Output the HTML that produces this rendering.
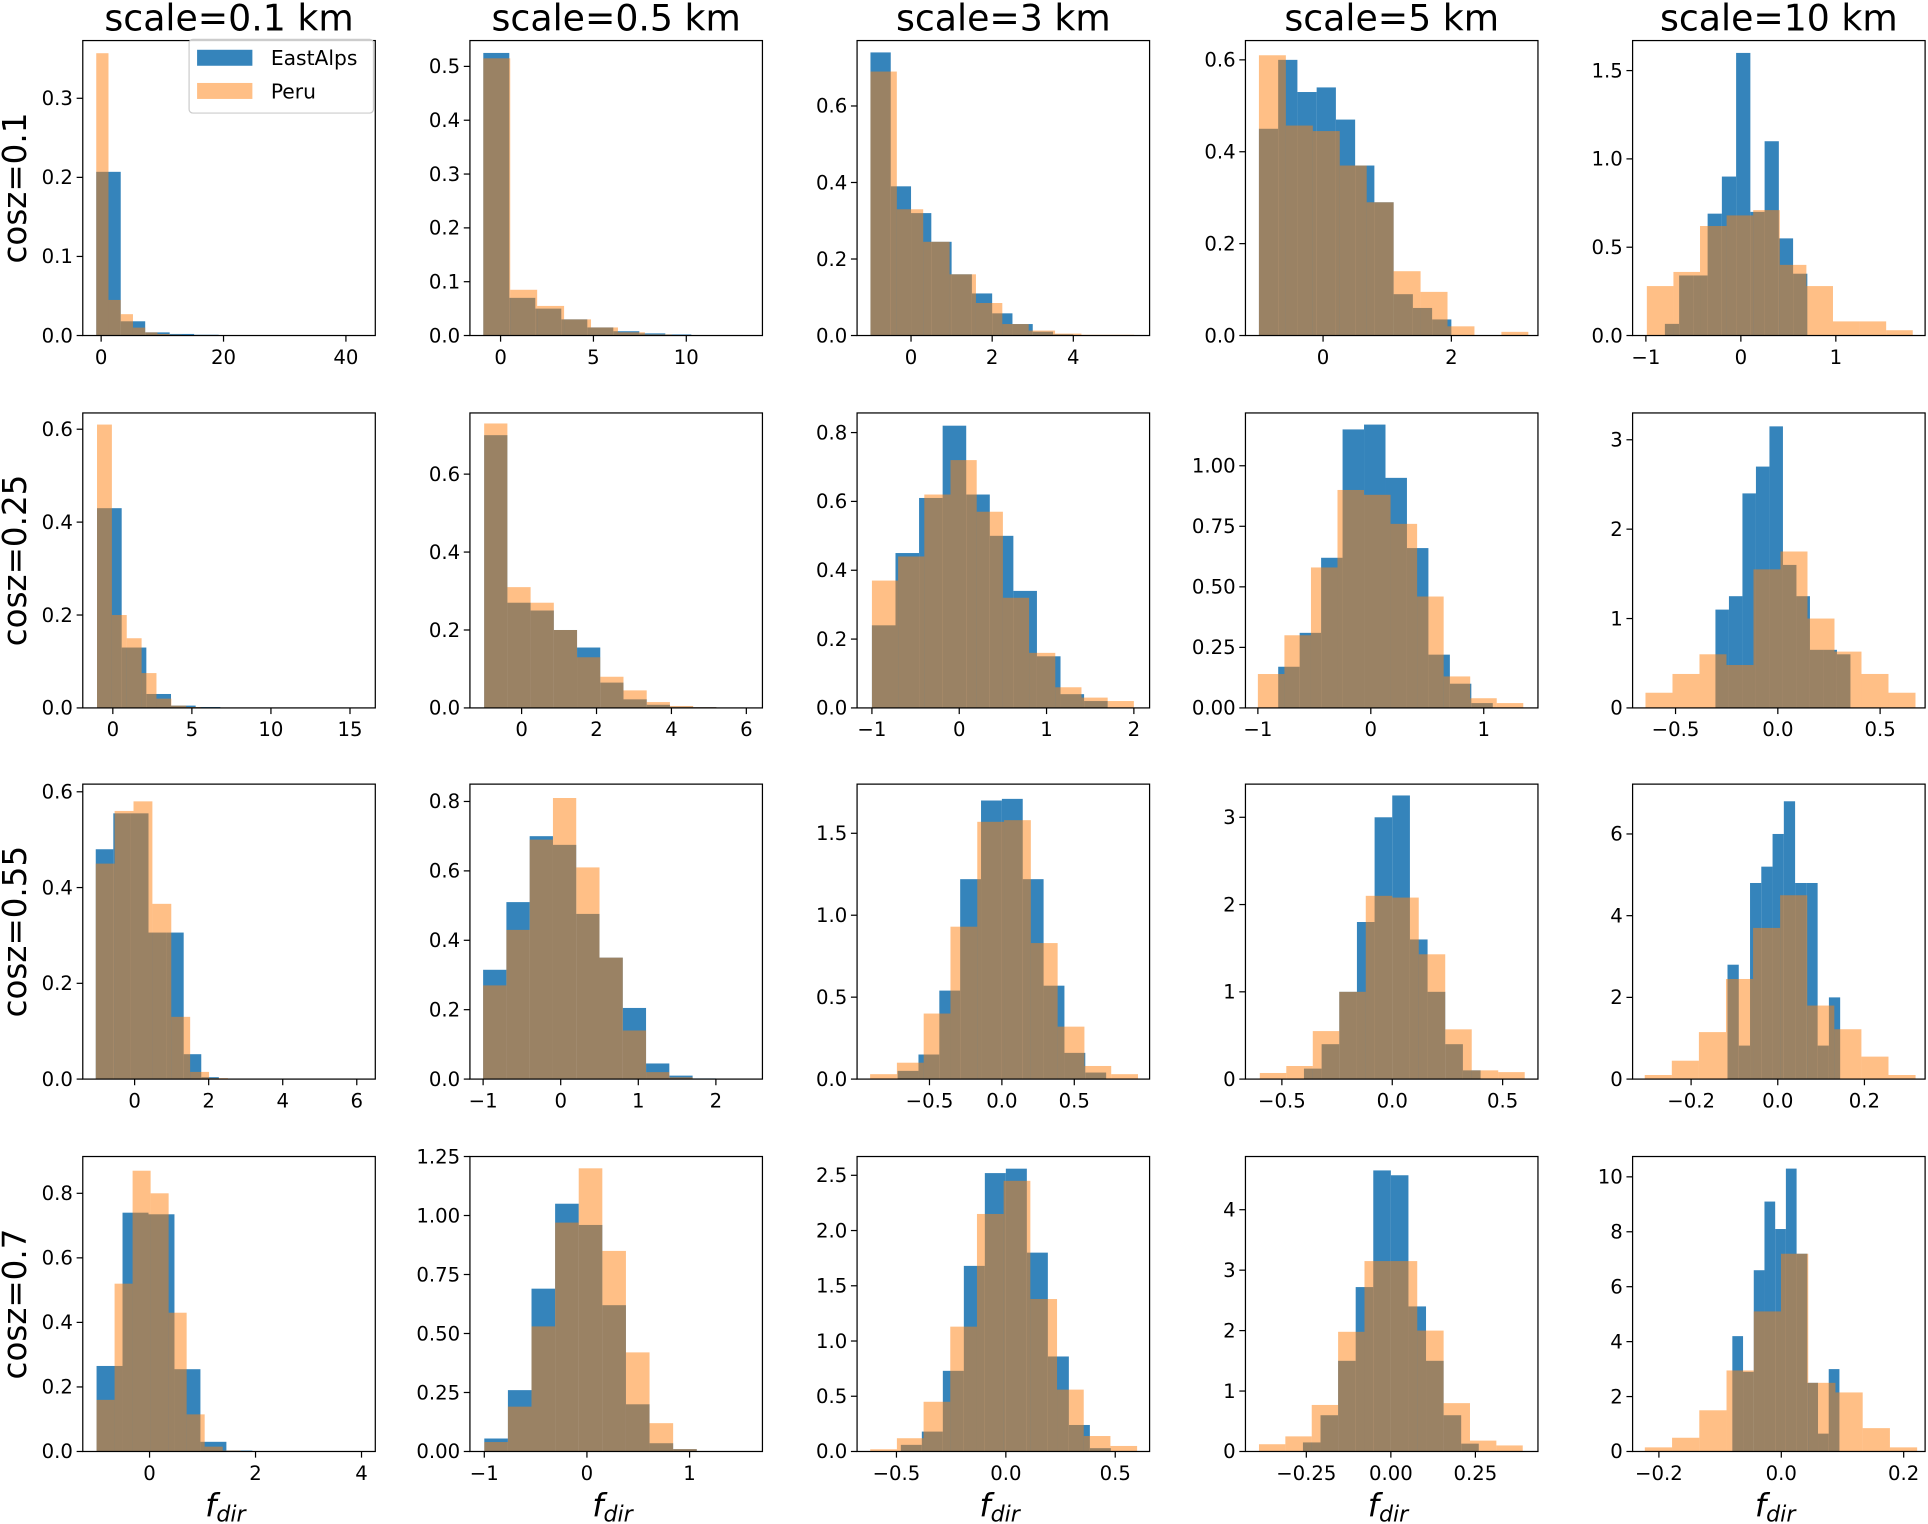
<!DOCTYPE html>
<html><head><meta charset="utf-8">
<style>
html,body{margin:0;padding:0;background:#fff;}
svg{display:block;}
text{font-family:"DejaVu Sans","Liberation Sans",sans-serif;fill:#000;}
</style></head>
<body>
<svg id="fig" xmlns="http://www.w3.org/2000/svg" width="1928" height="1524" viewBox="0 0 1568 1240">
<rect x="0" y="0" width="1568" height="1240" fill="#fff"/>
</svg>
<script>
// ---- data ----
const colTitles = ["scale=0.1 km","scale=0.5 km","scale=3 km","scale=5 km","scale=10 km"];
const rowTitles = ["cosz=0.1","cosz=0.25","cosz=0.55","cosz=0.7"];
const seriesNames = ["EastAlps","Peru"];
const xMins = [-3,-1.65,-1.33,-1.21,-1.14, -1.9,-1.38,-1.17,-1.11,-0.71, -1.4,-1.17,-1.0,-0.665,-0.335, -1.26,-1.14,-0.68,-0.43,-0.243];
const xMaxs = [44.8,14.1,5.88,3.35,1.94, 16.6,6.43,2.18,1.48,0.72, 6.5,2.6,1.02,0.66,0.34, 4.26,1.71,0.657,0.435,0.235];
const yMaxs = [0.373,0.548,0.771,0.642,1.67, 0.635,0.757,0.857,1.218,3.30, 0.616,0.85,1.80,3.38,7.22, 0.914,1.25,2.67,4.88,10.74];
const blueStarts = [-0.8,-0.93,-1.0,-1.0,-0.8, -1.0,-1.0,-1.0,-0.82,-0.305, -1.05,-1.0,-0.72,-0.40,-0.116, -1.0,-1.0,-0.48,-0.26,-0.08];
const blueWidths = [4,1.4,0.5,0.3,0.15, 1.56,0.62,0.27,0.19,0.066, 0.475,0.30,0.144,0.08,0.026, 0.49,0.23,0.096,0.052,0.0175];
const blueHeights = [
 [0.207,0.018,0.004,0.002,0.001,0,0,0,0,0],
 [0.525,0.07,0.05,0.03,0.015,0.008,0.004,0.002,0,0.001],
 [0.74,0.39,0.32,0.245,0.16,0.11,0.058,0.03,0.01,0.003],
 [0.45,0.60,0.53,0.54,0.47,0.37,0.29,0.09,0.06,0.035],
 [0.066,0.34,0.34,0.69,0.9,1.6,0.7,1.1,0.55,0.35],
 [0.43,0.13,0.03,0.005,0.002,0,0,0,0,0],
 [0.7,0.27,0.25,0.20,0.155,0.065,0.022,0.008,0.003,0.002],
 [0.24,0.45,0.61,0.82,0.62,0.5,0.34,0.15,0.04,0.02],
 [0.17,0.31,0.62,1.15,1.17,0.95,0.66,0.22,0.1,0.02],
 [1.1,1.25,2.4,2.7,3.15,1.6,1.25,0.65,0.65,0.6],
 [0.48,0.555,0.555,0.306,0.306,0.052,0.004,0,0,0],
 [0.315,0.51,0.70,0.675,0.476,0.35,0.205,0.045,0.01,0.002],
 [0.05,0.15,0.54,1.22,1.70,1.71,1.22,0.57,0.16,0.04],
 [0.12,0.4,1.0,1.8,3.0,3.25,1.6,1.0,0.4,0.1],
 [2.8,0.82,4.8,5.2,6.0,6.8,4.8,4.8,0.82,2.0],
 [0.265,0.74,0.735,0.255,0.03,0.003,0,0,0,0],
 [0.055,0.26,0.69,1.05,0.96,0.62,0.2,0.035,0.01,0.002],
 [0.06,0.18,0.73,1.68,2.52,2.56,1.8,0.86,0.24,0.03],
 [0.15,0.6,1.5,2.72,4.65,4.57,2.4,1.5,0.6,0.13],
 [4.2,2.9,6.6,9.1,8.1,10.3,7.2,2.5,0.65,3.0]
];
const orangeStarts = [-0.8,-0.93,-1.0,-1.0,-0.99, -1.0,-1.0,-1.0,-1.0,-0.647, -1.05,-1.0,-0.91,-0.60,-0.307, -1.0,-1.0,-0.62,-0.39,-0.223];
const orangeWidths = [2,1.45,0.65,0.42,0.28, 0.94,0.62,0.30,0.235,0.132, 0.51,0.30,0.185,0.12,0.0625, 0.34,0.23,0.122,0.078,0.0445];
const orangeHeights = [
 [0.357,0.045,0.027,0.01,0.004,0.002,0.001,0,0,0],
 [0.515,0.085,0.055,0.03,0.015,0.006,0.002,0.001,0,0],
 [0.69,0.33,0.245,0.16,0.085,0.03,0.013,0.005,0.002,0.002],
 [0.61,0.457,0.445,0.37,0.29,0.14,0.095,0.02,0,0.008],
 [0.28,0.36,0.62,0.68,0.71,0.4,0.28,0.08,0.08,0.03],
 [0.61,0.2,0.15,0.075,0.02,0.005,0.002,0.001,0,0],
 [0.73,0.31,0.27,0.2,0.13,0.08,0.045,0.015,0.005,0.002],
 [0.37,0.44,0.62,0.72,0.57,0.32,0.16,0.06,0.03,0.02],
 [0.14,0.3,0.58,0.9,0.88,0.76,0.46,0.13,0.04,0.02],
 [0.17,0.38,0.6,0.48,1.55,1.75,1.0,0.63,0.38,0.17],
 [0.45,0.56,0.58,0.366,0.13,0.015,0.002,0.001,0,0],
 [0.27,0.43,0.69,0.81,0.61,0.35,0.14,0.02,0.005,0],
 [0.03,0.1,0.4,0.93,1.57,1.58,0.83,0.32,0.08,0.03],
 [0.07,0.15,0.55,1.0,2.1,2.08,1.43,0.57,0.1,0.08],
 [0.1,0.45,1.15,2.45,3.7,4.5,1.8,1.22,0.55,0.1],
 [0.16,0.52,0.87,0.8,0.43,0.115,0.015,0.003,0,0],
 [0.04,0.19,0.53,0.97,1.2,0.85,0.42,0.12,0.01,0.002],
 [0.02,0.12,0.45,1.13,2.15,2.45,1.38,0.56,0.14,0.05],
 [0.12,0.25,0.77,1.98,3.15,3.15,2.0,0.8,0.18,0.1],
 [0.15,0.5,1.5,2.95,5.1,7.2,2.5,2.15,0.85,0.15]
];
const xTicks = [
 [0,20,40],[0,5,10],[0,2,4],[0,2],[-1,0,1],
 [0,5,10,15],[0,2,4,6],[-1,0,1,2],[-1,0,1],[-0.5,0,0.5],
 [0,2,4,6],[-1,0,1,2],[-0.5,0,0.5],[-0.5,0,0.5],[-0.2,0,0.2],
 [0,2,4],[-1,0,1],[-0.5,0,0.5],[-0.25,0,0.25],[-0.2,0,0.2]
];
const xTickLabels = [
 ["0","20","40"],["0","5","10"],["0","2","4"],["0","2"],["−1","0","1"],
 ["0","5","10","15"],["0","2","4","6"],["−1","0","1","2"],["−1","0","1"],["−0.5","0.0","0.5"],
 ["0","2","4","6"],["−1","0","1","2"],["−0.5","0.0","0.5"],["−0.5","0.0","0.5"],["−0.2","0.0","0.2"],
 ["0","2","4"],["−1","0","1"],["−0.5","0.0","0.5"],["−0.25","0.00","0.25"],["−0.2","0.0","0.2"]
];
const yTicks = [
 [0,0.1,0.2,0.3],[0,0.1,0.2,0.3,0.4,0.5],[0,0.2,0.4,0.6],[0,0.2,0.4,0.6],[0,0.5,1.0,1.5],
 [0,0.2,0.4,0.6],[0,0.2,0.4,0.6],[0,0.2,0.4,0.6,0.8],[0,0.25,0.5,0.75,1.0],[0,1,2,3],
 [0,0.2,0.4,0.6],[0,0.2,0.4,0.6,0.8],[0,0.5,1.0,1.5],[0,1,2,3],[0,2,4,6],
 [0,0.2,0.4,0.6,0.8],[0,0.25,0.5,0.75,1.0,1.25],[0,0.5,1.0,1.5,2.0,2.5],[0,1,2,3,4],[0,2,4,6,8,10]
];
const yTickLabels = [
 ["0.0","0.1","0.2","0.3"],["0.0","0.1","0.2","0.3","0.4","0.5"],["0.0","0.2","0.4","0.6"],["0.0","0.2","0.4","0.6"],["0.0","0.5","1.0","1.5"],
 ["0.0","0.2","0.4","0.6"],["0.0","0.2","0.4","0.6"],["0.0","0.2","0.4","0.6","0.8"],["0.00","0.25","0.50","0.75","1.00"],["0","1","2","3"],
 ["0.0","0.2","0.4","0.6"],["0.0","0.2","0.4","0.6","0.8"],["0.0","0.5","1.0","1.5"],["0","1","2","3"],["0","2","4","6"],
 ["0.0","0.2","0.4","0.6","0.8"],["0.00","0.25","0.50","0.75","1.00","1.25"],["0.0","0.5","1.0","1.5","2.0","2.5"],["0","1","2","3","4"],["0","2","4","6","8","10"]
];
// ---- layout ----
const colLeft = [67,382,697,1013,1328], axW = 238;
const rowTop = [33,336,638,941], axH = 240;
const NS = "http://www.w3.org/2000/svg";
const svg = document.getElementById('fig');
function mk(tag, attrs, parent){ const e=document.createElementNS(NS,tag); for(const k in attrs) e.setAttribute(k,attrs[k]); (parent||svg).appendChild(e); return e; }

for(let p=0;p<20;p++){
  const r=Math.floor(p/5), c=p%5;
  const L=colLeft[c], T=rowTop[r], B=T+axH;
  const xs=v=>L+(v-xMins[p])/(xMaxs[p]-xMins[p])*axW;
  const ys=v=>B-v/yMaxs[p]*axH;
  const g=mk('g',{});
  
  
  const series=[[blueStarts[p],blueWidths[p],blueHeights[p],'#1f77b4',0.9,'eastalps'],[orangeStarts[p],orangeWidths[p],orangeHeights[p],'#ff7f0e',0.5,'peru']];
  series.forEach(s=>{
    s[2].forEach((h,i)=>{
      if(h<=0) return;
      const x0=xs(s[0]+i*s[1]), x1=xs(s[0]+(i+1)*s[1]);
      const rc=mk('rect',{x:x0,y:ys(h),width:Math.max(0,x1-x0),height:B-ys(h),fill:s[3],'fill-opacity':s[4]},g);
      
      
    });
  });
  const fr=mk('rect',{x:L,y:T,width:axW,height:axH,fill:'none',stroke:'#000','stroke-width':1},g);
  
  
  xTicks[p].forEach((v,i)=>{
    const x=xs(v);
    mk('line',{x1:x,y1:B,x2:x,y2:B+5,stroke:'#000','stroke-width':1},g);
    const t=mk('text',{x:x,y:B+23,'font-size':16,'text-anchor':'middle'},g);
    t.textContent=xTickLabels[p][i];
    
    
  });
  yTicks[p].forEach((v,i)=>{
    const y=ys(v);
    mk('line',{x1:L-5,y1:y,x2:L,y2:y,stroke:'#000','stroke-width':1},g);
    const t=mk('text',{x:L-8,y:y+5.5,'font-size':16,'text-anchor':'end'},g);
    t.textContent=yTickLabels[p][i];
    
    
  });
}
colTitles.forEach((s,c)=>{
  const t=mk('text',{x:colLeft[c]+axW/2,y:25,'font-size':29.5,'text-anchor':'middle'});
  t.textContent=s;
  
  
  const xl=mk('text',{x:colLeft[c]+axW/2-3,y:1234,'font-size':26,'text-anchor':'middle','font-style':'italic'});
  
  
  const t1=mk('tspan',{},xl); t1.textContent='f';
  const t2=mk('tspan',{'font-size':18,dy:4},xl); t2.textContent='dir';
});
rowTitles.forEach((s,r)=>{
  const cy=rowTop[r]+axH/2, cx=21;
  const t=mk('text',{x:cx,y:cy,'font-size':26.5,'text-anchor':'middle',transform:'rotate(-90 '+cx+' '+cy+')'});
  t.textContent=s;
  
  
});
// legend
const lg=mk('g',{});


mk('rect',{x:153.5,y:32,width:150,height:60,rx:3,fill:'#fff','fill-opacity':0.8,stroke:'#ccc','stroke-width':1},lg);
[['#1f77b4',0.9,47],['#ff7f0e',0.5,74]].forEach((d,i)=>{
  const pr=mk('rect',{x:160,y:d[2]-6.5,width:45,height:13,fill:d[0],'fill-opacity':d[1]},lg);
  
  
  const t=mk('text',{x:220,y:d[2]+6,'font-size':16.5},lg);
  t.textContent=seriesNames[i];
  
  
});
</script>
</body></html>
